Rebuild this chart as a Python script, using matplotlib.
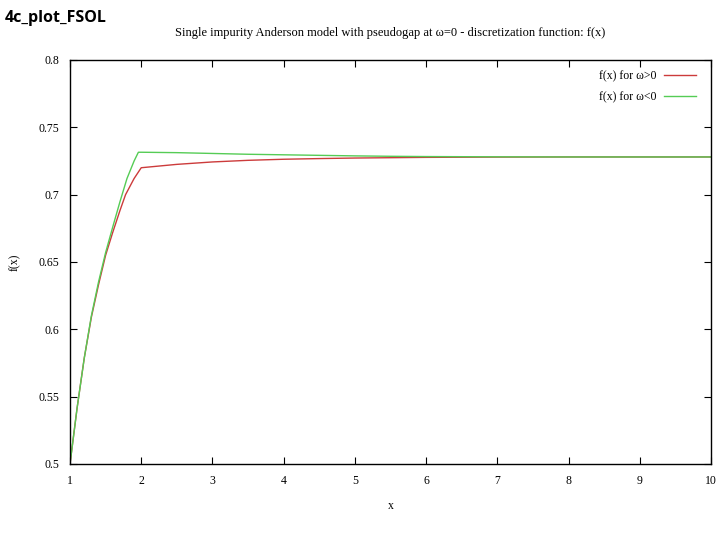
import matplotlib
matplotlib.use("Agg")
import matplotlib.pyplot as plt

x_pos = [1.0, 1.1, 1.2, 1.3, 1.4, 1.5, 1.6, 1.7, 1.78, 1.9, 2.0, 2.5, 3.0, 3.5,
         4.0, 4.5, 5.0, 6.0, 7.0, 8.0, 9.0, 10.0]
f_pos = [0.500, 0.5417, 0.5786, 0.609, 0.633, 0.655, 0.672, 0.688, 0.700, 0.712,
         0.720, 0.7225, 0.7243, 0.7255, 0.7263, 0.7268, 0.7272, 0.7277, 0.7279,
         0.7280, 0.7280, 0.7280]

x_neg = [1.0, 1.1, 1.2, 1.3, 1.4, 1.5, 1.6, 1.7, 1.8, 1.9, 1.96, 2.0, 2.5, 3.0,
         3.5, 4.0, 4.5, 5.0, 5.5, 6.0, 7.0, 8.0, 9.0, 10.0]
f_neg = [0.500, 0.5417, 0.5786, 0.610, 0.635, 0.657, 0.676, 0.6945, 0.712, 0.725,
         0.7315, 0.7315, 0.7312, 0.7306, 0.7300, 0.7296, 0.7292, 0.7288, 0.7285,
         0.7283, 0.7281, 0.7280, 0.7280, 0.7280]

xticks = [1, 2, 3, 4, 5, 6, 7, 8, 9, 10]
yticks = [0.5, 0.55, 0.6, 0.65, 0.7, 0.75, 0.8]
ytick_labels = ["0.5", "0.55", "0.6", "0.65", "0.7", "0.75", "0.8"]

serif = ["Liberation Serif", "DejaVu Serif"]

fig = plt.figure(figsize=(7.2, 5.4), dpi=100)
ax = fig.add_axes([70/720, 76/540, 641/720, 404/540])

ax.plot(x_pos, f_pos, color="#cc3b3b", lw=1.0, label="f(x) for \u03c9>0")
ax.plot(x_neg, f_neg, color="#55cc55", lw=1.0, label="f(x) for \u03c9<0")

ax.set_xlim(1, 10)
ax.set_ylim(0.5, 0.8)
ax.set_xticks(xticks)
ax.set_xticklabels([str(t) for t in xticks], family=serif, fontsize=8.5)
ax.set_yticks(yticks)
ax.set_yticklabels(ytick_labels, family=serif, fontsize=8.5)
ax.tick_params(direction="in", top=True, right=True, length=5, width=0.8, pad=8)
for s in ax.spines.values():
    s.set_linewidth(1.0)

ax.set_xlabel("x", family=serif, fontsize=8.5, labelpad=9)
ax.set_ylabel("f(x)", family=serif, fontsize=8.5, labelpad=12)
ax.set_title("Single impurity Anderson model with pseudogap at \u03c9=0 - discretization function: f(x)",
             family=serif, fontsize=9, pad=17)

leg = ax.legend(loc="upper right", bbox_to_anchor=(0.9906, 0.9975),
                frameon=False, markerfirst=False,
                prop={"family": serif, "size": 8.5}, handlelength=2.7,
                borderaxespad=0.4, labelspacing=0.75, handletextpad=0.6)

fig.text(5/720, 1 - 18/540, "4c_plot_FSOL", fontsize=11.5, fontweight="bold",
         family=["Open Sans", "DejaVu Sans"], va="center", ha="left")

fig.savefig("out.png", dpi=100)
